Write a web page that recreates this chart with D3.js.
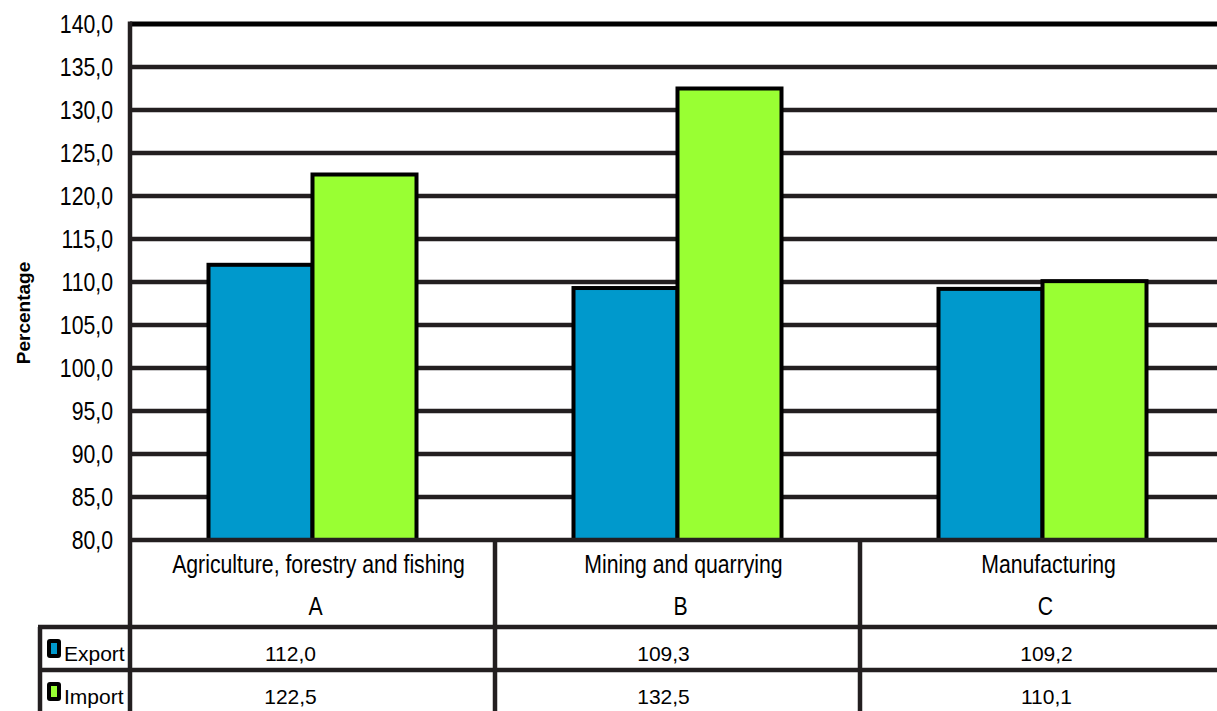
<!DOCTYPE html>
<html lang="en">
  <head>
    <meta charset="UTF-8" />
    <title>Export / Import</title>
    <script src="https://cdn.jsdelivr.net/npm/d3@7"></script>
    <style>
      body { margin: 0; background: #fff; }
      text { font-family: "Liberation Sans", Arial, sans-serif; fill: #000; }
    </style>
  </head>
  <body>
    <svg width="1217" height="711"></svg>
  </body>

  <script>
    // 数据
    var sections = ['Agriculture, forestry and fishing', 'Mining and quarrying', 'Manufacturing'];
    var codes = ['A', 'B', 'C'];
    var seriesNames = ['Export', 'Import'];
    var exportVals = [112.0, 109.3, 109.2];
    var importVals = [122.5, 132.5, 110.1];
    var yTicks = [80, 85, 90, 95, 100, 105, 110, 115, 120, 125, 130, 135, 140];
    var colors = ['#0099CC', '#99FF33'];

    var svg = d3.select('svg');
    var mLeft = 130, mRight = 1225, mTop = 24, mBottom = 540;
    var tableTop = 627, rowH = 43, legendLeft = 40;
    var narrow = 0.85; // 模拟窄字体
    var valueShift = [-22, -14, 4]; // 表格数值的水平偏移

    var x = d3.scaleBand().domain(d3.range(sections.length)).range([mLeft, mRight]);
    var y = d3.scaleLinear().domain([80, 140]).range([mBottom, mTop]);
    var fmt = function (v) { return d3.format('.1f')(v).replace('.', ','); };

    // 网格线
    svg.append('g').selectAll('line').data(yTicks.slice(1)).enter().append('line')
      .attr('x1', mLeft).attr('x2', 1217)
      .attr('y1', function (d) { return y(d); }).attr('y2', function (d) { return y(d); })
      .attr('stroke', function (d) { return d === 140 ? '#000' : '#231f20'; })
      .attr('stroke-width', function (d) { return d === 140 ? 5 : 4.5; });

    // y轴刻度文字
    svg.append('g').selectAll('text').data(yTicks).enter().append('text')
      .attr('transform', function (d) { return 'translate(113,' + y(d) + ') scale(' + narrow + ',1)'; })
      .attr('dy', '0.36em').attr('text-anchor', 'end')
      .style('font-size', '25px')
      .text(fmt);

    svg.append('text')
      .attr('transform', 'translate(30,313) rotate(-90)')
      .attr('text-anchor', 'middle')
      .style('font-size', '19px').style('font-weight', 'bold')
      .text('Percentage');

    // 柱子
    var barW = 104;
    var series = [exportVals, importVals];
    series.forEach(function (vals, s) {
      svg.append('g').selectAll('rect').data(vals).enter().append('rect')
        .attr('x', function (d, i) { return x(i) + x.bandwidth() / 2 - barW + s * barW; })
        .attr('y', function (d) { return y(d); })
        .attr('width', barW)
        .attr('height', function (d) { return mBottom - y(d); })
        .attr('fill', colors[s])
        .attr('stroke', '#000').attr('stroke-width', 4);
    });

    // 表格线
    var lines = svg.append('g').attr('stroke', '#231f20').attr('stroke-width', 4.5);
    lines.append('line').attr('x1', mLeft).attr('x2', 1217).attr('y1', mBottom).attr('y2', mBottom);
    lines.append('line').attr('x1', mLeft).attr('x2', mLeft).attr('y1', mTop - 2.5).attr('y2', 711);
    [tableTop, tableTop + rowH].forEach(function (yy) {
      lines.append('line').attr('x1', legendLeft - 2).attr('x2', 1217).attr('y1', yy).attr('y2', yy);
    });
    lines.append('line').attr('x1', legendLeft).attr('x2', legendLeft).attr('y1', tableTop).attr('y2', 711);
    d3.range(1, sections.length).forEach(function (i) {
      lines.append('line').attr('x1', x(i)).attr('x2', x(i)).attr('y1', mBottom).attr('y2', 711);
    });

    // 分类标签
    var cats = svg.append('g').selectAll('g').data(sections).enter().append('g')
      .attr('transform', function (d, i) { return 'translate(' + (x(i) + x.bandwidth() / 2) + ',0)'; });
    cats.append('text').attr('text-anchor', 'middle')
      .attr('transform', 'translate(6,573) scale(' + narrow + ',1)')
      .style('font-size', '25px').text(function (d) { return d; });
    cats.append('text').attr('text-anchor', 'middle')
      .attr('transform', 'translate(3,615) scale(' + narrow + ',1)')
      .style('font-size', '25px').text(function (d, i) { return codes[i]; });

    // 数值行 + 图例
    series.forEach(function (vals, s) {
      var rowY = tableTop + s * rowH;
      var lg = svg.append('g');
      lg.append('rect').attr('x', 47).attr('y', rowY + 12).attr('width', 14).attr('height', 19)
        .attr('rx', 3).attr('fill', '#000');
      lg.append('rect').attr('x', 51).attr('y', rowY + 16).attr('width', 6).attr('height', 11)
        .attr('fill', colors[s]);
      lg.append('text').attr('x', 64).attr('y', rowY + 34).style('font-size', '21px').text(seriesNames[s]);

      svg.append('g').selectAll('text').data(vals).enter().append('text')
        .attr('x', function (d, i) { return x(i) + x.bandwidth() / 2 + valueShift[i]; })
        .attr('y', rowY + 34)
        .attr('text-anchor', 'middle')
        .style('font-size', '21px')
        .text(fmt);
    });
  </script>
</html>
